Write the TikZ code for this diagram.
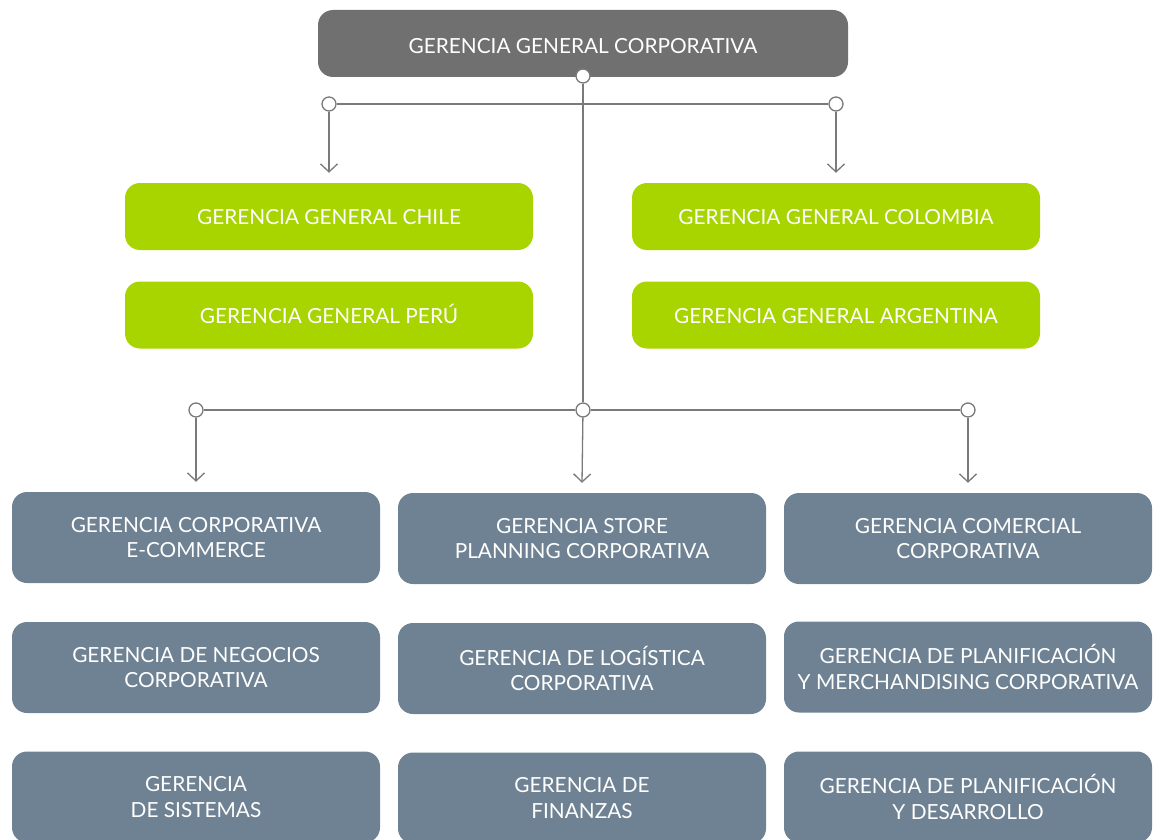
\documentclass[tikz,border=0pt]{standalone}
\usepackage{fontspec}
\setmainfont{Lato}
\usetikzlibrary{arrows.meta}
\definecolor{topgray}{HTML}{707070}
\definecolor{leafgreen}{HTML}{A8D400}
\definecolor{slate}{HTML}{6F8293}
\definecolor{linegray}{HTML}{7A7A7A}
\begin{document}
\begin{tikzpicture}[x=1pt,y=-1pt,
  box/.style={rounded corners=15pt, text=white, align=center, inner sep=0pt,
    font=\fontsize{20.8}{25.5}\selectfont},
  onebox/.style={box, text depth=0pt},
  topbox/.style={onebox, text height=20pt, fill=topgray, minimum width=530pt, minimum height=67pt},
  greenbox/.style={onebox, text height=16.5pt, fill=leafgreen, minimum width=408pt, minimum height=67pt},
  slatebox/.style={box, fill=slate, minimum width=368pt, minimum height=91pt},
  dot/.style={circle, draw=linegray, fill=white, line width=1.3pt, minimum size=14pt, inner sep=0pt},
  link/.style={draw=linegray, line width=1.3pt},
  arr/.style={link, -{Straight Barb[length=8pt,width=17pt,line width=1.3pt]}}
]
\useasboundingbox (0,0) rectangle (1162,840);
\clip (0,0) rectangle (1162,840);

\node[topbox] (top) at (583,43.5) {GERENCIA GENERAL CORPORATIVA};

\node[greenbox] (chile) at (329,216.5) {GERENCIA GENERAL CHILE};
\node[greenbox] (colombia) at (836,216.5) {GERENCIA GENERAL COLOMBIA};
\node[greenbox] (peru) at (329,315) {GERENCIA GENERAL PERÚ};
\node[greenbox] (argentina) at (836,315) {GERENCIA GENERAL ARGENTINA};

\node[slatebox] (ecom) at (196,537.5) {GERENCIA CORPORATIVA\\E-COMMERCE};
\node[slatebox] (store) at (582,538.5) {GERENCIA STORE\\PLANNING CORPORATIVA};
\node[slatebox] (comercial) at (968,538.5) {GERENCIA COMERCIAL\\CORPORATIVA};
\node[slatebox] (negocios) at (196,667.5) {GERENCIA DE NEGOCIOS\\CORPORATIVA};
\node[slatebox] (logistica) at (582,668.5) {GERENCIA DE LOGÍSTICA\\CORPORATIVA};
\node[slatebox] (merch) at (968,667) {GERENCIA DE PLANIFICACIÓN\\Y MERCHANDISING CORPORATIVA};
\node[slatebox] (sistemas) at (196,797) {GERENCIA\\DE SISTEMAS};
\node[slatebox] (finanzas) at (582,798) {GERENCIA DE\\FINANZAS};
\node[slatebox] (desarrollo) at (968,797) {GERENCIA DE PLANIFICACIÓN\\Y DESARROLLO};

\node[dot] (c0) at (583,76) {};
\node[dot] (c1a) at (329,104) {};
\node[dot] (c1b) at (836,104) {};
\node[dot] (c2) at (583,410) {};
\node[dot] (c2a) at (196,410) {};
\node[dot] (c2b) at (968,410) {};

\draw[link] (c0) -- (c2);
\draw[link] (c1a) -- (c1b);
\draw[link] (c2a) -- (c2);
\draw[link] (c2) -- (c2b);

\draw[arr] (c1a) -- ([yshift=10pt]chile.north);
\draw[arr] (c1b) -- ([yshift=10pt]colombia.north);
\draw[arr] (c2a) -- ([yshift=10pt]ecom.north);
\draw[arr] (c2) -- ([yshift=10pt]store.north);
\draw[arr] (c2b) -- ([yshift=10pt]comercial.north);
\end{tikzpicture}
\end{document}
